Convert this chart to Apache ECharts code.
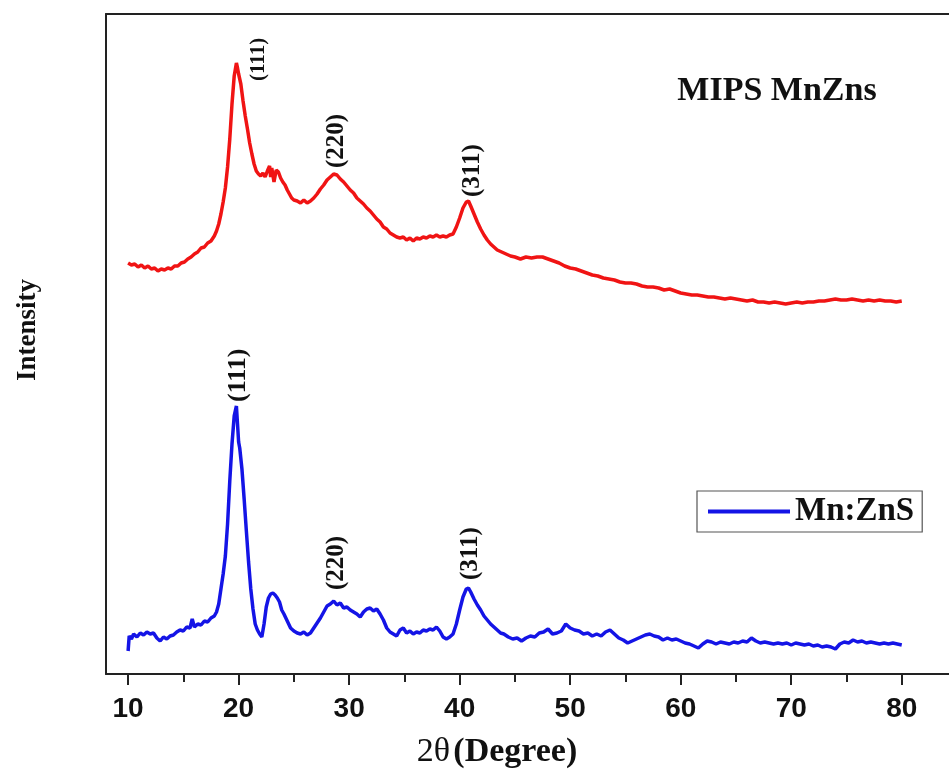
<!DOCTYPE html>
<html>
<head>
<meta charset="utf-8">
<title>XRD MIPS MnZns / Mn:ZnS</title>
<script src="https://cdn.jsdelivr.net/npm/echarts@6/dist/echarts.min.js"></script>
<style>
  html, body { margin: 0; padding: 0; background: #fff; }
  #chart { width: 949px; height: 778px; }
</style>
</head>
<body>
<div id="chart"></div>
<script>
// 2θ ticks
var majorTicks = [10, 20, 30, 40, 50, 60, 70, 80];
var minorTicks = [15, 25, 35, 45, 55, 65, 75];

// MIPS MnZns (red, upper trace) [2θ, intensity a.u.]
var mipsData = [
  [10.0,411],[10.3,409],[10.6,410],[10.9,407],[11.2,409],[11.5,406],[11.8,408],[12.1,405],[12.4,406],[12.7,403],
  [13.0,405],[13.3,404],[13.6,406],[13.9,405],[14.2,408],[14.5,408],[14.8,411],[15.1,412],[15.4,415],[15.7,417],
  [16.0,420],[16.3,422],[16.6,426],[16.9,427],[17.2,431],[17.5,433],[17.8,438],[18.0,443],[18.2,450],[18.4,460],
  [18.6,472],[18.8,486],[19.0,507],[19.2,535],[19.4,570],[19.6,598],[19.8,611],[19.9,606],[20.0,600],[20.2,590],
  [20.4,573],[20.6,558],[20.8,545],[21.0,531],[21.2,520],[21.4,510],[21.6,503],[21.8,500],[22.0,498],[22.2,501],
  [22.4,497],[22.6,503],[22.8,508],[22.9,497],[23.0,506],[23.2,492],[23.4,504],[23.6,502],[23.8,496],[24.0,492],
  [24.2,489],[24.4,484],[24.6,480],[24.8,476],[25.0,474],[25.3,473],[25.6,471],[25.9,474],[26.2,471],[26.5,473],
  [26.8,476],[27.1,480],[27.4,485],[27.7,489],[28.0,494],[28.3,497],[28.6,500],[28.9,499],[29.2,495],[29.5,492],
  [29.8,488],[30.1,484],[30.4,481],[30.7,476],[31.0,473],[31.3,470],[31.6,466],[31.9,463],[32.2,459],[32.5,455],
  [32.8,452],[33.1,447],[33.4,445],[33.7,441],[34.0,439],[34.3,437],[34.6,436],[34.9,437],[35.2,434],[35.5,436],
  [35.8,433],[36.1,436],[36.4,435],[36.7,437],[37.0,436],[37.3,438],[37.6,437],[37.9,439],[38.2,437],[38.5,438],
  [38.8,437],[39.1,439],[39.4,440],[39.7,447],[40.0,456],[40.3,466],[40.6,472],[40.8,473],[41.0,468],[41.3,460],
  [41.6,452],[41.9,445],[42.2,439],[42.5,434],[42.8,430],[43.1,427],[43.4,424],[43.8,422],[44.2,420],[44.6,418],
  [45.0,417],[45.5,415],[46.0,417],[46.5,416],[47.0,417],[47.5,417],[48.0,415],[48.5,413],[49.0,411],[49.5,408],
  [50.0,406],[50.5,405],[51.0,403],[51.5,401],[52.0,399],[52.5,398],[53.0,396],[53.5,395],[54.0,394],[54.5,392],
  [55.0,391],[55.5,391],[56.0,390],[56.5,388],[57.0,387],[57.5,387],[58.0,386],[58.5,384],[59.0,385],[59.5,383],
  [60.0,381],[60.5,380],[61.0,379],[61.5,379],[62.0,378],[62.5,377],[63.0,377],[63.5,376],[64.0,375],[64.5,376],
  [65.0,375],[65.5,374],[66.0,373],[66.5,374],[67.0,372],[67.5,372],[68.0,371],[68.5,372],[69.0,371],[69.5,370],
  [70.0,371],[70.5,372],[71.0,371],[71.5,372],[72.0,372],[72.5,373],[73.0,373],[73.5,374],[74.0,375],[74.5,374],
  [75.0,374],[75.5,375],[76.0,374],[76.5,373],[77.0,374],[77.5,373],[78.0,374],[78.5,373],[79.0,373],[79.5,372],
  [80.0,373]
];

// Mn:ZnS (blue, lower trace) [2θ, intensity a.u.]
var mnznsData = [
  [10.0,23],[10.1,38],[10.3,35],[10.5,40],[10.8,37],[11.1,41],[11.4,39],[11.7,42],[12.0,40],[12.3,41],
  [12.6,36],[12.9,33],[13.2,37],[13.5,35],[13.8,38],[14.1,39],[14.4,42],[14.7,44],[15.0,43],[15.3,47],
  [15.6,46],[15.8,55],[16.0,47],[16.3,50],[16.6,49],[16.9,53],[17.2,52],[17.5,56],[17.8,58],[18.0,62],
  [18.2,70],[18.4,85],[18.6,100],[18.8,118],[19.0,150],[19.2,193],[19.4,230],[19.6,258],[19.8,268],[19.9,250],
  [20.0,232],[20.1,226],[20.3,205],[20.5,175],[20.7,143],[20.9,112],[21.1,85],[21.3,65],[21.5,50],[21.7,44],
  [21.9,40],[22.1,37],[22.3,50],[22.5,67],[22.7,76],[22.9,80],[23.1,81],[23.3,79],[23.5,76],[23.7,72],
  [23.9,64],[24.1,60],[24.4,53],[24.7,46],[25.0,43],[25.3,41],[25.6,40],[25.9,42],[26.2,39],[26.5,41],
  [26.8,46],[27.1,51],[27.4,56],[27.7,62],[28.0,68],[28.3,70],[28.6,73],[28.9,69],[29.2,71],[29.5,66],
  [29.8,67],[30.1,64],[30.4,62],[30.7,60],[31.0,57],[31.3,62],[31.6,65],[31.9,66],[32.2,63],[32.5,65],
  [32.8,60],[33.1,54],[33.4,46],[33.7,42],[34.0,40],[34.3,38],[34.6,44],[34.9,46],[35.2,41],[35.5,43],
  [35.8,40],[36.1,42],[36.4,41],[36.7,44],[37.0,43],[37.3,45],[37.6,44],[37.9,47],[38.2,43],[38.5,37],
  [38.8,35],[39.1,37],[39.4,40],[39.7,50],[40.0,64],[40.3,77],[40.6,85],[40.8,86],[41.0,82],[41.3,75],
  [41.6,69],[41.9,64],[42.2,58],[42.5,54],[42.8,50],[43.1,47],[43.4,44],[43.7,41],[44.0,40],[44.4,37],
  [44.8,35],[45.2,36],[45.6,33],[46.0,36],[46.4,38],[46.8,37],[47.2,41],[47.6,42],[48.0,45],[48.4,40],
  [48.8,41],[49.2,43],[49.6,50],[50.0,46],[50.4,44],[50.8,43],[51.2,40],[51.6,41],[52.0,38],[52.4,40],
  [52.8,38],[53.2,42],[53.6,44],[54.0,40],[54.4,36],[54.8,34],[55.2,31],[55.6,33],[56.0,35],[56.4,37],
  [56.8,39],[57.2,40],[57.6,38],[58.0,37],[58.4,34],[58.8,36],[59.2,34],[59.6,35],[60.0,33],[60.4,31],
  [60.8,30],[61.2,28],[61.6,26],[62.0,30],[62.4,33],[62.8,32],[63.2,30],[63.6,32],[64.0,31],[64.4,30],
  [64.8,32],[65.2,31],[65.6,33],[66.0,32],[66.4,36],[66.8,33],[67.2,31],[67.6,32],[68.0,31],[68.4,30],
  [68.8,31],[69.2,30],[69.6,31],[70.0,29],[70.4,31],[70.8,30],[71.2,29],[71.6,30],[72.0,28],[72.4,29],
  [72.8,27],[73.2,28],[73.6,27],[74.0,25],[74.4,30],[74.8,32],[75.2,31],[75.6,34],[76.0,32],[76.4,33],
  [76.8,31],[77.2,32],[77.6,31],[78.0,30],[78.4,31],[78.8,30],[79.2,31],[79.6,30],[80.0,29]
];

// peak indexing
var peakNames = ['(111)', '(220)', '(311)'];
var mipsPeaks = [19.8, 28.6, 40.8];
var mnznsPeaks = [19.8, 28.6, 40.8];

var serif = '"Liberation Serif", "Times New Roman", serif';
var sans = '"Liberation Sans", Arial, sans-serif';

function intensityAt(data, angle) {
  var best = data[0];
  for (var i = 0; i < data.length; i++) {
    if (Math.abs(data[i][0] - angle) < Math.abs(best[0] - angle)) best = data[i];
  }
  return best[1];
}

// screen shift of each label from its peak [dx, dy]
function peakLabels(data, peaks, shifts, sizes) {
  var res = [];
  for (var i = 0; i < peaks.length; i++) {
    res.push({
      value: [peaks[i], intensityAt(data, peaks[i])],
      name: peakNames[i],
      label: {
        // rotated frame: offset[0] goes up, offset[1] goes right
        offset: [-shifts[i][1], shifts[i][0]],
        fontSize: sizes[i]
      }
    });
  }
  return res;
}

var chart = echarts.init(document.getElementById('chart'));

var labelStyle = {
  show: true,
  position: 'inside',
  rotate: 90,
  align: 'left',
  verticalAlign: 'middle',
  formatter: '{b}',
  fontFamily: serif,
  fontWeight: 'bold',
  color: '#111',
  opacity: 1,
  textBorderWidth: 0,
  textBorderColor: 'transparent'
};

var option = {
  animation: false,
  backgroundColor: '#fff',
  grid: {
    left: 106,
    top: 14,
    width: 851,
    height: 660,
    containLabel: false,
    outerBoundsMode: 'none'
  },
  legend: {
    data: ['Mn:ZnS'],
    left: 697,
    top: 491,
    orient: 'horizontal',
    icon: 'rect',
    itemWidth: 82,
    itemHeight: 4,
    padding: [4, 8, 4, 11],
    borderColor: '#555',
    borderWidth: 1.2,
    selectedMode: false,
    textStyle: {
      fontFamily: serif,
      fontWeight: 'bold',
      fontSize: 33,
      color: '#111'
    }
  },
  xAxis: [{
    type: 'value',
    min: 8,
    max: 85,
    position: 'bottom',
    axisLine: { show: true, lineStyle: { color: '#222', width: 2 } },
    axisTick: { show: true, customValues: majorTicks, length: 11, lineStyle: { color: '#222', width: 2 } },
    axisLabel: {
      show: true,
      customValues: majorTicks,
      margin: 21,
      fontFamily: sans,
      fontWeight: 'bold',
      fontSize: 28,
      color: '#111'
    },
    splitLine: { show: false }
  }, {
    type: 'value',
    min: 8,
    max: 85,
    position: 'bottom',
    axisLine: { show: false },
    axisTick: { show: true, customValues: minorTicks, length: 8, lineStyle: { color: '#222', width: 2 } },
    axisLabel: { show: false },
    splitLine: { show: false }
  }, {
    type: 'value',
    min: 8,
    max: 85,
    position: 'top',
    axisLine: { show: true, lineStyle: { color: '#222', width: 2 } },
    axisTick: { show: false },
    axisLabel: { show: false },
    splitLine: { show: false }
  }],
  yAxis: {
    type: 'value',
    min: 0,
    max: 660,
    axisLine: { show: true, lineStyle: { color: '#222', width: 2 } },
    axisTick: { show: false },
    axisLabel: { show: false },
    splitLine: { show: false }
  },
  graphic: [{
    type: 'text',
    x: 777,
    y: 91,
    style: {
      text: 'MIPS MnZns',
      font: 'bold 34px ' + serif,
      fill: '#111',
      align: 'center',
      verticalAlign: 'middle'
    }
  }, {
    type: 'text',
    x: 28,
    y: 330,
    rotation: Math.PI / 2,
    style: {
      text: 'Intensity',
      font: 'bold 27px ' + serif,
      fill: '#111',
      align: 'center',
      verticalAlign: 'middle'
    }
  }, {
    type: 'text',
    x: 497,
    y: 752,
    style: {
      text: '{a|2θ} {b|(Degree)}',
      align: 'center',
      verticalAlign: 'middle',
      rich: {
        a: { fontFamily: serif, fontSize: 34, fontWeight: 'normal', fill: '#111' },
        b: { fontFamily: serif, fontSize: 34, fontWeight: 'bold', fill: '#111' }
      }
    }
  }],
  series: [{
    name: 'MIPS MnZns',
    type: 'line',
    data: mipsData,
    showSymbol: false,
    lineStyle: { color: '#f01414', width: 3.5 },
    itemStyle: { color: '#f01414' },
    z: 3
  }, {
    name: 'Mn:ZnS',
    type: 'line',
    data: mnznsData,
    showSymbol: false,
    lineStyle: { color: '#1414e6', width: 3.5 },
    itemStyle: { color: '#1414e6' },
    z: 3
  }, {
    name: 'mips-peaks',
    type: 'scatter',
    symbolSize: 0,
    silent: true,
    itemStyle: { opacity: 1 },
    label: labelStyle,
    data: peakLabels(mipsData, mipsPeaks, [[22, 18], [3, -6], [4, -4]], [21, 25, 25]),
    z: 5
  }, {
    name: 'mnzns-peaks',
    type: 'scatter',
    symbolSize: 0,
    silent: true,
    itemStyle: { opacity: 1 },
    label: labelStyle,
    data: peakLabels(mnznsData, mnznsPeaks, [[2, -4], [3, -11], [2, -8]], [26, 25, 25]),
    z: 5
  }]
};

chart.setOption(option);
</script>
</body>
</html>
